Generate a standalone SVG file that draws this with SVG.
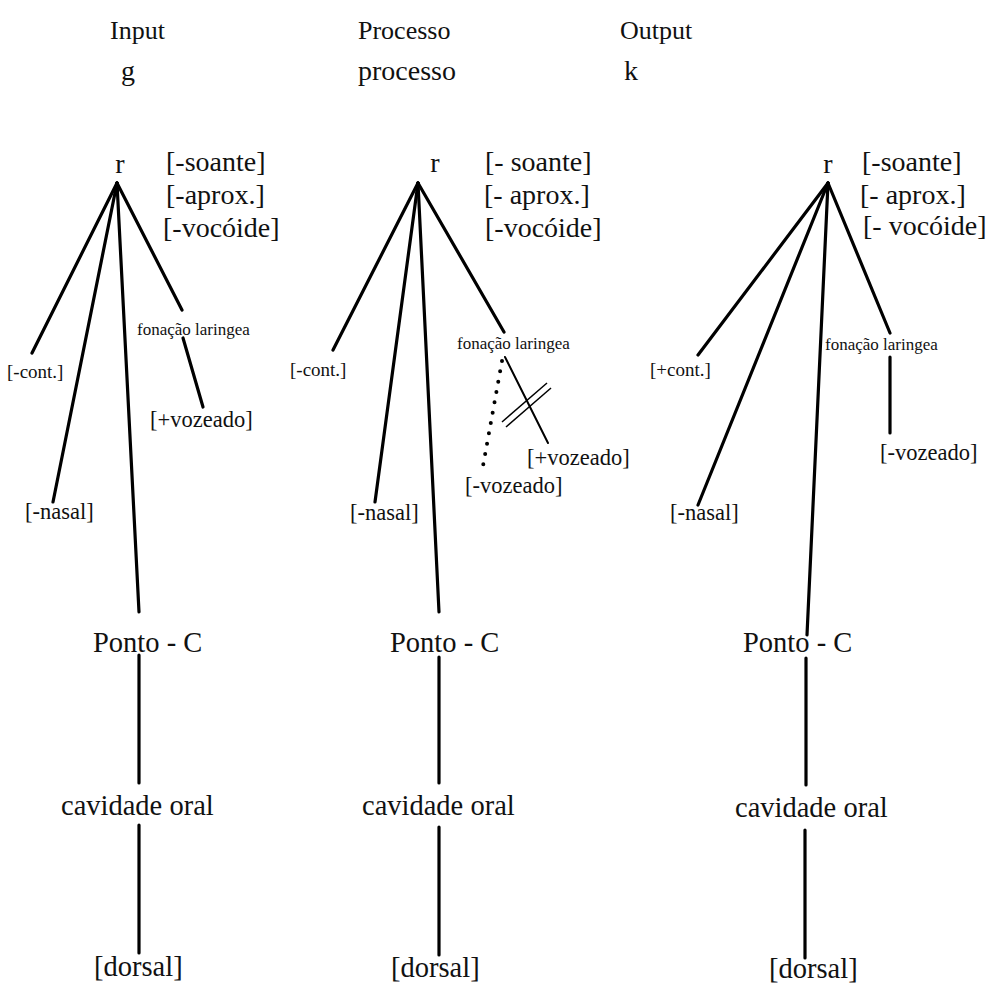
<svg xmlns="http://www.w3.org/2000/svg" width="988" height="987" viewBox="0 0 988 987">
  <style>
    text { font-family: "Liberation Serif", "Times New Roman", serif; fill: #111; }
    .title { font-size: 26px; }
    .seg { font-size: 28px; }
    .big { font-size: 28.5px; }
    .feat { font-size: 28px; }
    .mid { font-size: 22.5px; }
    .small { font-size: 19px; }
    .tiny { font-size: 17px; }
    .edge { stroke: #000; stroke-width: 3.2; stroke-linecap: round; fill: none; }
    .thin { stroke: #000; stroke-width: 2; stroke-linecap: round; fill: none; }
    .hair { stroke: #000; stroke-width: 1.5; fill: none; }
    .dots { stroke: #000; stroke-width: 4; stroke-linecap: round; stroke-dasharray: 0 10.5; fill: none; }
  </style>

  <!-- column headings -->
  <g id="headings">
    <text class="title" x="110" y="39">Input</text>
    <text class="title" x="358" y="39">Processo</text>
    <text class="title" x="620" y="39">Output</text>
    <text class="seg" x="121" y="80">g</text>
    <text class="seg" x="358" y="80">processo</text>
    <text class="seg" x="624" y="80">k</text>
  </g>

  <!-- connectors -->
  <g id="connectors">
    <!-- input tree -->
    <line class="edge" x1="117" y1="183" x2="32" y2="353"/>
    <line class="edge" x1="117" y1="183" x2="53" y2="502"/>
    <line class="edge" x1="117" y1="183" x2="139" y2="612"/>
    <line class="edge" x1="117" y1="183" x2="182" y2="310"/>
    <line class="edge" x1="183" y1="338" x2="203" y2="407"/>
    <line class="edge" x1="139" y1="655" x2="139" y2="783"/>
    <line class="edge" x1="139" y1="825" x2="139" y2="953"/>
    <!-- process tree -->
    <line class="edge" x1="418" y1="183" x2="333" y2="350"/>
    <line class="edge" x1="418" y1="183" x2="375" y2="502"/>
    <line class="edge" x1="418" y1="183" x2="439" y2="612"/>
    <line class="edge" x1="418" y1="183" x2="504" y2="332"/>
    <line class="thin" x1="505" y1="357" x2="548" y2="443"/>
    <line class="dots" x1="502" y1="361" x2="483" y2="466"/>
    <line class="hair" x1="502" y1="422" x2="547" y2="383"/>
    <line class="hair" x1="506" y1="427" x2="551" y2="388"/>
    <line class="edge" x1="439" y1="657" x2="439" y2="783"/>
    <line class="edge" x1="439" y1="827" x2="439" y2="955"/>
    <!-- output tree -->
    <line class="edge" x1="828" y1="183" x2="698" y2="355"/>
    <line class="edge" x1="828" y1="183" x2="698" y2="505"/>
    <line class="edge" x1="828" y1="183" x2="807" y2="635"/>
    <line class="edge" x1="828" y1="183" x2="890" y2="333"/>
    <line class="edge" x1="890" y1="357" x2="890" y2="433"/>
    <line class="edge" x1="806" y1="658" x2="806" y2="785"/>
    <line class="edge" x1="805" y1="830" x2="805" y2="958"/>
  </g>

  <!-- input tree nodes -->
  <g id="input-root">
    <text class="seg" x="120" y="173" text-anchor="middle">r</text>
    <text class="feat" x="166" y="171">[-soante]</text>
    <text class="feat" x="166" y="204">[-aprox.]</text>
    <text class="feat" x="163" y="237">[-vocóide]</text>
  </g>
  <g id="input-cont"><text class="small" x="7" y="378">[-cont.]</text></g>
  <g id="input-nasal"><text class="mid" x="25" y="519">[-nasal]</text></g>
  <g id="input-laryngeal"><text class="tiny" x="137" y="335">fonação laringea</text></g>
  <g id="input-voice"><text class="mid" x="150" y="427">[+vozeado]</text></g>
  <g id="input-place"><text class="big" x="93" y="652">Ponto - C</text></g>
  <g id="input-oral"><text class="big" x="61" y="815">cavidade oral</text></g>
  <g id="input-dorsal"><text class="big" x="94" y="976">[dorsal]</text></g>

  <!-- process tree nodes -->
  <g id="process-root">
    <text class="seg" x="435" y="172" text-anchor="middle">r</text>
    <text class="feat" x="485" y="171">[- soante]</text>
    <text class="feat" x="484" y="204">[- aprox.]</text>
    <text class="feat" x="485" y="237">[-vocóide]</text>
  </g>
  <g id="process-cont"><text class="small" x="290" y="376">[-cont.]</text></g>
  <g id="process-nasal"><text class="mid" x="350" y="520">[-nasal]</text></g>
  <g id="process-laryngeal"><text class="tiny" x="457" y="349">fonação laringea</text></g>
  <g id="process-voice-plus"><text class="mid" x="527" y="465">[+vozeado]</text></g>
  <g id="process-voice-minus"><text class="mid" x="465" y="493">[-vozeado]</text></g>
  <g id="process-place"><text class="big" x="390" y="652">Ponto - C</text></g>
  <g id="process-oral"><text class="big" x="362" y="815">cavidade oral</text></g>
  <g id="process-dorsal"><text class="big" x="391" y="977">[dorsal]</text></g>

  <!-- output tree nodes -->
  <g id="output-root">
    <text class="seg" x="828" y="173" text-anchor="middle">r</text>
    <text class="feat" x="862" y="171">[-soante]</text>
    <text class="feat" x="860" y="204">[- aprox.]</text>
    <text class="feat" x="863" y="235">[- vocóide]</text>
  </g>
  <g id="output-cont"><text class="small" x="650" y="376">[+cont.]</text></g>
  <g id="output-nasal"><text class="mid" x="670" y="520">[-nasal]</text></g>
  <g id="output-laryngeal"><text class="tiny" x="825" y="350">fonação laringea</text></g>
  <g id="output-voice"><text class="mid" x="880" y="460">[-vozeado]</text></g>
  <g id="output-place"><text class="big" x="743" y="652">Ponto - C</text></g>
  <g id="output-oral"><text class="big" x="735" y="817">cavidade oral</text></g>
  <g id="output-dorsal"><text class="big" x="769" y="978">[dorsal]</text></g>
</svg>
